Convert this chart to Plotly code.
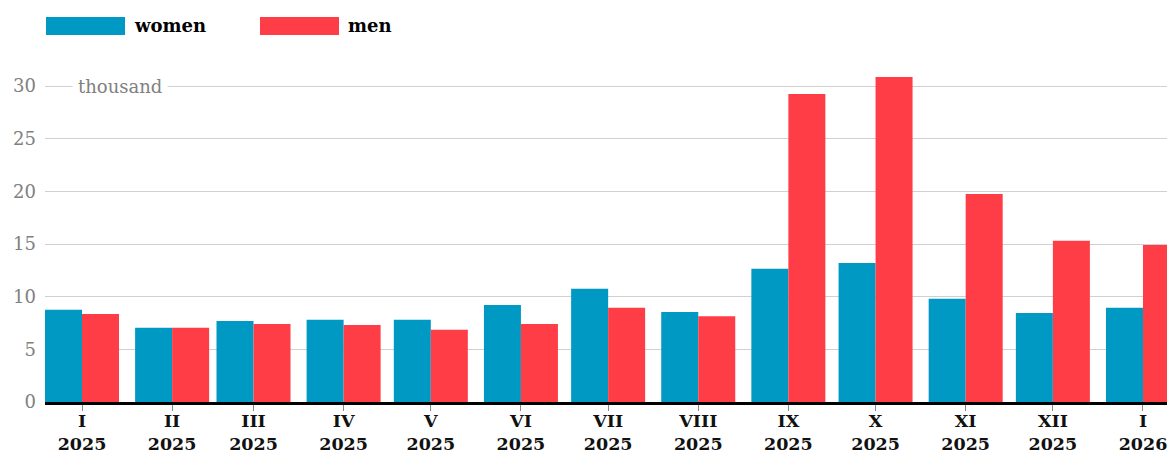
import plotly.graph_objects as go
import pandas as pd

months = ["2025-01-01", "2025-02-01", "2025-03-01", "2025-04-01", "2025-05-01", "2025-06-01",
          "2025-07-01", "2025-08-01", "2025-09-01", "2025-10-01", "2025-11-01", "2025-12-01",
          "2026-01-01"]
tick_labels = ["I<br>2025", "II<br>2025", "III<br>2025", "IV<br>2025", "V<br>2025", "VI<br>2025",
               "VII<br>2025", "VIII<br>2025", "IX<br>2025", "X<br>2025", "XI<br>2025", "XII<br>2025",
               "I<br>2026"]
women = [8.75, 7.05, 7.7, 7.8, 7.8, 9.2, 10.75, 8.55, 12.65, 13.2, 9.8, 8.45, 8.95]
men = [8.35, 7.05, 7.4, 7.3, 6.85, 7.4, 8.95, 8.15, 29.25, 30.85, 19.75, 15.3, 14.9]

BLUE = "#0099C4"
RED = "#FF3D47"
FONT = "DejaVu Serif"

day_ms = 86400000
bar_w = 12.73 * day_ms

x_dates = pd.to_datetime(months)

fig = go.Figure()
fig.add_trace(go.Bar(x=x_dates, y=women, name="women", marker_color=BLUE, marker_line_width=0,
                     width=bar_w, offset=-bar_w, showlegend=False))
fig.add_trace(go.Bar(x=x_dates, y=men, name="men", marker_color=RED, marker_line_width=0,
                     width=bar_w, offset=0, showlegend=False))

x_left = pd.Timestamp("2025-01-01") - pd.Timedelta(days=12.73)
x_right = pd.Timestamp("2026-01-01") + pd.Timedelta(days=8.26)

W, H = 1167, 452
ml, mr, mt, mb = 45, 0, 65, 50
pw = W - ml - mr
ph = H - mt - mb

def px(x):
    return (x - ml) / pw

def py(y):
    return (H - mb - y) / ph

fig.update_layout(
    width=W, height=H,
    margin=dict(l=ml, r=mr, t=mt, b=mb, autoexpand=False),
    plot_bgcolor="white", paper_bgcolor="white",
    barmode="overlay",
    font=dict(family=FONT, size=18, color="#000"),
    xaxis=dict(
        type="date", range=[x_left, x_right],
        tickmode="array", tickvals=x_dates, ticktext=tick_labels,
        tickfont=dict(family=FONT, size=17.5, color="#111", weight="bold"),
        ticks="outside", ticklen=6, tickcolor="#888", tickwidth=1,
        ticklabelstandoff=-5, ticklabeloverflow="allow",
        showgrid=False, showline=True, linecolor="#000", linewidth=3,
        zeroline=False, automargin=False,
    ),
    yaxis=dict(
        range=[0, 32], tickvals=[0, 5, 10, 15, 20, 25, 30],
        tickfont=dict(family=FONT, size=18, color="#808080"),
        showgrid=True, gridcolor="#d0d0d0", gridwidth=1,
        zeroline=False, showline=False, ticks="", ticklabelstandoff=8,
        automargin=False,
    ),
    shapes=[
        dict(type="rect", xref="paper", yref="paper", x0=px(46), x1=px(125), y0=py(35), y1=py(17),
             fillcolor=BLUE, line_width=0),
        dict(type="rect", xref="paper", yref="paper", x0=px(260), x1=px(339), y0=py(35), y1=py(17),
             fillcolor=RED, line_width=0),
    ],
    annotations=[
        dict(text="<b>women</b>", xref="paper", yref="paper", x=px(132), y=py(26),
             xanchor="left", yanchor="middle", showarrow=False,
             font=dict(family=FONT, size=18, color="#000")),
        dict(text="<b>men</b>", xref="paper", yref="paper", x=px(346), y=py(26),
             xanchor="left", yanchor="middle", showarrow=False,
             font=dict(family=FONT, size=18, color="#000")),
        dict(text="thousand", xref="paper", yref="y", x=px(72), y=30,
             xanchor="left", yanchor="middle", showarrow=False, bgcolor="white", borderpad=5,
             font=dict(family=FONT, size=18, color="#808080")),
    ],
)

fig.write_html("out.html", config={"displayModeBar": False},
               post_script="document.body.style.margin='0';document.body.style.overflow='hidden';")
